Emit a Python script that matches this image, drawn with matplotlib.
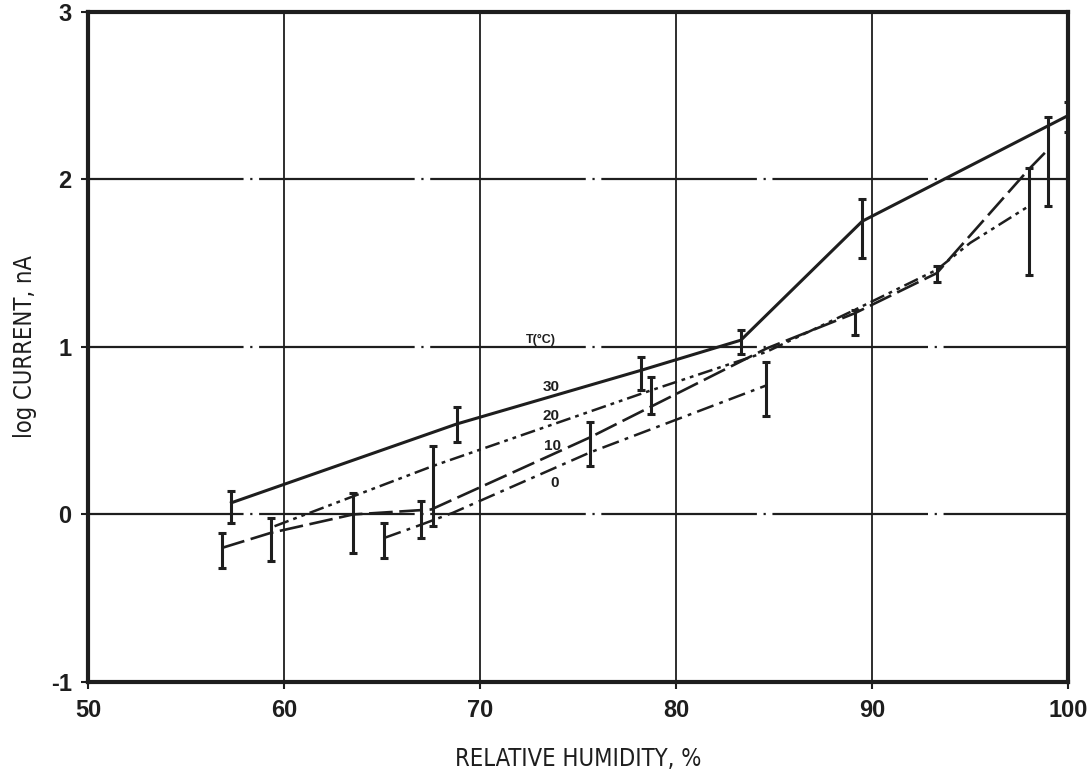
import matplotlib
matplotlib.use('Agg')
import matplotlib.pyplot as plt
import numpy as np

plt.rcParams['font.family'] = ['Liberation Sans', 'DejaVu Sans']

# curves, one per temperature
x_t30 = [57.3, 68.8, 78.2, 83.3, 89.5, 100.0]
y_t30 = [0.07, 0.54, 0.86, 1.04, 1.75, 2.38]

x_t20 = [59.5, 67.6, 78.7, 84.6, 89.1, 93.3, 95.0, 98.0]
y_t20 = [-0.07, 0.29, 0.74, 0.97, 1.22, 1.46, 1.62, 1.84]

x_t10 = [56.8, 59.3, 63.5, 67.5, 75.6, 84.6, 89.1, 93.3, 98.0, 99.0]
y_t10 = [-0.20, -0.11, 0.00, 0.03, 0.46, 0.99, 1.20, 1.44, 2.06, 2.18]

x_t0 = [65.1, 67.0, 68.6, 75.6, 84.6]
y_t0 = [-0.14, -0.06, 0.01, 0.37, 0.77]

# error bars: position, low end, high end
bar_x = [57.3, 68.8, 78.2, 83.3, 89.5, 100.0, 67.6, 78.7, 98.0,
         56.8, 59.3, 63.5, 75.6, 89.1, 93.3, 99.0, 65.1, 67.0, 84.6]
bar_lo = [-0.05, 0.43, 0.74, 0.96, 1.53, 2.28, -0.07, 0.60, 1.43,
          -0.32, -0.28, -0.23, 0.29, 1.07, 1.39, 1.84, -0.26, -0.14, 0.59]
bar_hi = [0.14, 0.64, 0.94, 1.10, 1.88, 2.46, 0.41, 0.82, 2.07,
          -0.11, -0.02, 0.13, 0.55, 1.22, 1.48, 2.37, -0.05, 0.08, 0.91]

curve_labels = ['30', '20', '10', '0']
label_x = [73.6, 73.6, 73.7, 73.8]
label_y = [0.76, 0.59, 0.41, 0.19]

ink = '#1e1e1e'

fig = plt.figure(figsize=(10.91, 7.76), dpi=100)
ax = fig.add_axes([0.081, 0.121, 0.898, 0.864])

# grid: long dash-dot horizontals, plain verticals
for yv in [0, 1, 2]:
    ax.axhline(yv, color=ink, lw=1.6, linestyle=(0, (70, 3, 1, 3)), zorder=1)
for xv in [60, 70, 80, 90]:
    ax.axvline(xv, color=ink, lw=1.3, zorder=1)

ax.plot(x_t30, y_t30, color=ink, lw=2.2, linestyle='-', zorder=3)
ax.plot(x_t20, y_t20, color=ink, lw=1.8, linestyle=(0, (6, 2, 1.5, 2, 1.5, 2)), zorder=3)
ax.plot(x_t10, y_t10, color=ink, lw=1.9, linestyle=(0, (9, 2.5)), zorder=3)
ax.plot(x_t0, y_t0, color=ink, lw=1.8, linestyle=(0, (7, 2.5, 1.5, 2.5)), zorder=3)

lo = np.array(bar_lo)
hi = np.array(bar_hi)
mid = (lo + hi) / 2
ax.errorbar(bar_x, mid, yerr=[mid - lo, hi - mid], fmt='none', ecolor=ink,
            elinewidth=2.2, capsize=3, capthick=2.2, zorder=4)

ax.text(73.1, 1.04, 'T(°C)', fontsize=9, fontweight='bold', color=ink,
        ha='center', va='center')
for t, lx, ly in zip(curve_labels, label_x, label_y):
    ax.text(lx, ly, t, fontsize=11, fontweight='bold', color=ink,
            ha='center', va='center', zorder=5)

ax.set_xlim(50, 100)
ax.set_ylim(-1, 3)
ax.set_xticks([50, 60, 70, 80, 90, 100])
ax.set_yticks([-1, 0, 1, 2, 3])
ax.set_yticklabels(['-1', '0', '1', '2', '3'])
ax.tick_params(axis='both', labelsize=17, colors=ink, width=1.5, length=5,
               direction='out', pad=7)
for lab in ax.get_xticklabels() + ax.get_yticklabels():
    lab.set_fontweight('bold')

for sp in ax.spines.values():
    sp.set_linewidth(3)
    sp.set_color(ink)

ax.set_xlabel('RELATIVE HUMIDITY, %', fontsize=17, color=ink, labelpad=18,
              family='DejaVu Sans', fontstretch='condensed')
ax.set_ylabel('log CURRENT, nA', fontsize=17, color=ink, labelpad=10,
              family='DejaVu Sans', fontstretch='condensed')

plt.savefig('out.png', dpi=100)
